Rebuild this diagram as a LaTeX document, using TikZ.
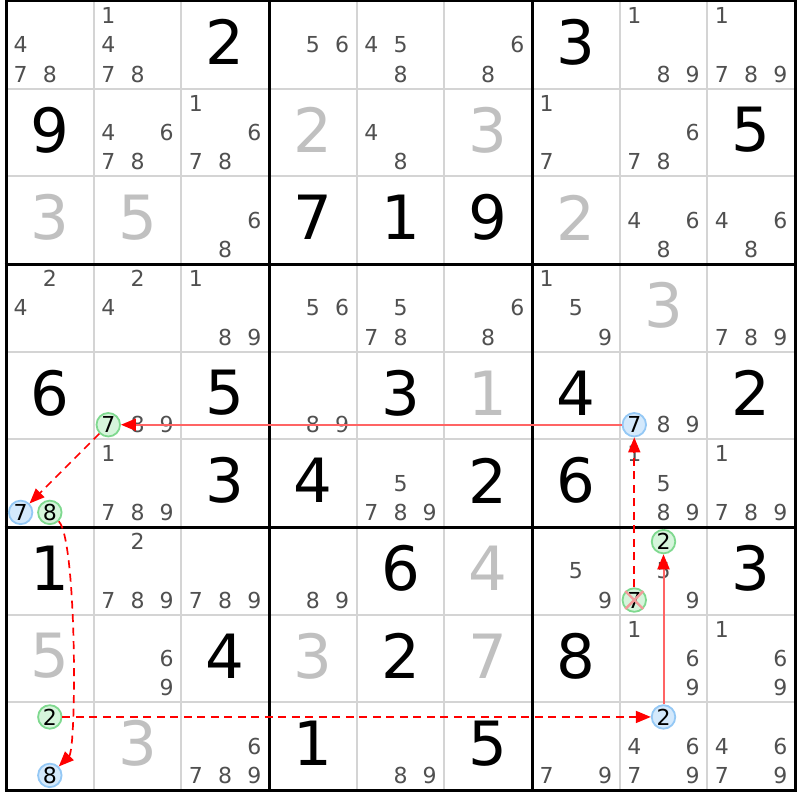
\documentclass[tikz,border=0pt]{standalone}
\usepackage{fontspec}
\setmainfont{DejaVu Sans}
\usetikzlibrary{arrows.meta}
\definecolor{candgray}{HTML}{505050}
\definecolor{givgray}{HTML}{C0C0C0}
\definecolor{thingray}{HTML}{D4D4D4}
\definecolor{gfill}{HTML}{D6F5DC}
\definecolor{gdraw}{HTML}{7FD98F}
\definecolor{bfill}{HTML}{D4E9FC}
\definecolor{bdraw}{HTML}{94C8F5}
\definecolor{linkred}{HTML}{FF0000}
\definecolor{softred}{HTML}{FF6464}
\definecolor{xpink}{HTML}{F29A9A}
\newcommand\Lx{6}
\newcommand\Ty{1}
\newcommand\cs{87.667}
\newcommand\bigdig[4]{\node[bigd,text=#4] (d#1#2) at ({\Lx+(#2-0.5)*\cs},{\Ty+(#1-0.5)*\cs-2.5}) {#3};}
\newcommand\cands[3]{\foreach \d in {#3} {%
  \pgfmathsetmacro\cx{\Lx+(#2-1)*\cs+(mod(\d-1,3)+0.5)*\cs/3}%
  \pgfmathsetmacro\cy{\Ty+(#1-1)*\cs+(floor((\d-1)/3)+0.5)*\cs/3}%
  \node[cand] (c#1#2\d) at (\cx,\cy) {\d};}}
\newcommand\hlc[5]{%
  \pgfmathsetmacro\cx{\Lx+(#2-1)*\cs+(mod(#3-1,3)+0.5)*\cs/3}%
  \pgfmathsetmacro\cy{\Ty+(#1-1)*\cs+(floor((#3-1)/3)+0.5)*\cs/3}%
  \node[#4] (#5) at (\cx,\cy) {#3};}
\begin{document}
\begin{tikzpicture}[x=1pt,y=-1pt,
  cand/.style={text=candgray, font=\fontsize{22}{22}\selectfont, inner sep=0pt},
  bigd/.style={font=\fontsize{61}{61}\selectfont, inner sep=0pt},
  gcirc/.style={circle, fill=gfill, draw=gdraw, line width=1.8pt, minimum size=23.5pt, inner sep=0pt, font=\fontsize{22}{22}\selectfont, text=black},
  bcirc/.style={circle, fill=bfill, draw=bdraw, line width=1.8pt, minimum size=23.5pt, inner sep=0pt, font=\fontsize{22}{22}\selectfont, text=black},
  thinline/.style={draw=thingray, line width=2pt},
  thickline/.style={draw=black, line width=3pt},
  solidlink/.style={draw=softred, line width=2pt, -{Triangle[length=15pt,width=12pt,color=linkred]}},
  dashlink/.style={draw=linkred, line width=1.7pt, dash pattern=on 8pt off 5.5pt, -{Triangle[length=15pt,width=12pt]}},
  elim/.style={draw=xpink, line width=2.4pt}]
\useasboundingbox (0,0) rectangle (800,800);
\fill[white] (0,0) rectangle (800,800);
% grid
\foreach \i in {1,2,4,5,7,8} {
  \draw[thinline] ({\Lx+\i*\cs},\Ty) -- ({\Lx+\i*\cs},{\Ty+9*\cs});
  \draw[thinline] (\Lx,{\Ty+\i*\cs}) -- ({\Lx+9*\cs},{\Ty+\i*\cs});
}
\foreach \i in {0,3,6,9} {
  \draw[thickline] ({\Lx+\i*\cs},{\Ty-1.5}) -- ({\Lx+\i*\cs},{\Ty+9*\cs+1.5});
  \draw[thickline] ({\Lx-1.5},{\Ty+\i*\cs}) -- ({\Lx+9*\cs+1.5},{\Ty+\i*\cs});
}
% big digits
\bigdig{1}{3}{2}{black}\bigdig{1}{7}{3}{black}
\bigdig{2}{1}{9}{black}\bigdig{2}{4}{2}{givgray}\bigdig{2}{6}{3}{givgray}\bigdig{2}{9}{5}{black}
\bigdig{3}{1}{3}{givgray}\bigdig{3}{2}{5}{givgray}\bigdig{3}{4}{7}{black}\bigdig{3}{5}{1}{black}\bigdig{3}{6}{9}{black}\bigdig{3}{7}{2}{givgray}
\bigdig{4}{8}{3}{givgray}
\bigdig{5}{1}{6}{black}\bigdig{5}{3}{5}{black}\bigdig{5}{5}{3}{black}\bigdig{5}{6}{1}{givgray}\bigdig{5}{7}{4}{black}\bigdig{5}{9}{2}{black}
\bigdig{6}{3}{3}{black}\bigdig{6}{4}{4}{black}\bigdig{6}{6}{2}{black}\bigdig{6}{7}{6}{black}
\bigdig{7}{1}{1}{black}\bigdig{7}{5}{6}{black}\bigdig{7}{6}{4}{givgray}\bigdig{7}{9}{3}{black}
\bigdig{8}{1}{5}{givgray}\bigdig{8}{3}{4}{black}\bigdig{8}{4}{3}{givgray}\bigdig{8}{5}{2}{black}\bigdig{8}{6}{7}{givgray}\bigdig{8}{7}{8}{black}
\bigdig{9}{2}{3}{givgray}\bigdig{9}{4}{1}{black}\bigdig{9}{6}{5}{black}
% candidates
\cands{1}{1}{4,7,8}\cands{1}{2}{1,4,7,8}\cands{1}{4}{5,6}\cands{1}{5}{4,5,8}\cands{1}{6}{6,8}\cands{1}{8}{1,8,9}\cands{1}{9}{1,7,8,9}
\cands{2}{2}{4,6,7,8}\cands{2}{3}{1,6,7,8}\cands{2}{5}{4,8}\cands{2}{7}{1,7}\cands{2}{8}{6,7,8}
\cands{3}{3}{6,8}\cands{3}{8}{4,6,8}\cands{3}{9}{4,6,8}
\cands{4}{1}{2,4}\cands{4}{2}{2,4}\cands{4}{3}{1,8,9}\cands{4}{4}{5,6}\cands{4}{5}{5,7,8}\cands{4}{6}{6,8}\cands{4}{7}{1,5,9}\cands{4}{9}{7,8,9}
\cands{5}{2}{8,9}\cands{5}{4}{8,9}\cands{5}{8}{8,9}
\cands{6}{2}{1,7,8,9}\cands{6}{5}{5,7,8,9}\cands{6}{8}{1,5,8,9}\cands{6}{9}{1,7,8,9}
\cands{7}{2}{2,7,8,9}\cands{7}{3}{7,8,9}\cands{7}{4}{8,9}\cands{7}{7}{5,9}\cands{7}{8}{5,9}
\cands{8}{2}{6,9}\cands{8}{8}{1,6,9}\cands{8}{9}{1,6,9}
\cands{9}{3}{6,7,8,9}\cands{9}{5}{8,9}\cands{9}{7}{7,9}\cands{9}{8}{4,6,7,9}\cands{9}{9}{4,6,7,9}
% highlighted candidates
\hlc{5}{2}{7}{gcirc}{ga}
\hlc{5}{8}{7}{bcirc}{ba}
\hlc{6}{1}{7}{bcirc}{bb}
\hlc{6}{1}{8}{gcirc}{gb}
\hlc{9}{1}{8}{bcirc}{bc}
\hlc{9}{1}{2}{gcirc}{gc}
\hlc{9}{8}{2}{bcirc}{bd}
\hlc{7}{8}{2}{gcirc}{gd}
\hlc{7}{8}{7}{gcirc}{ge}
% elimination mark
\draw[elim] (ge.135) -- (ge.-45);
\draw[elim] (ge.45) -- (ge.-135);
% links
\draw[solidlink] (ba) -- (ga);
\draw[dashlink] (ga) -- (bb);
\draw[dashlink] (gb) .. controls +(27,27) and +(27,-27) .. (bc);
\draw[dashlink] (gc) -- (bd);
\draw[solidlink] (bd) -- (gd);
\draw[dashlink] (ge) -- (ba);
\end{tikzpicture}
\end{document}
